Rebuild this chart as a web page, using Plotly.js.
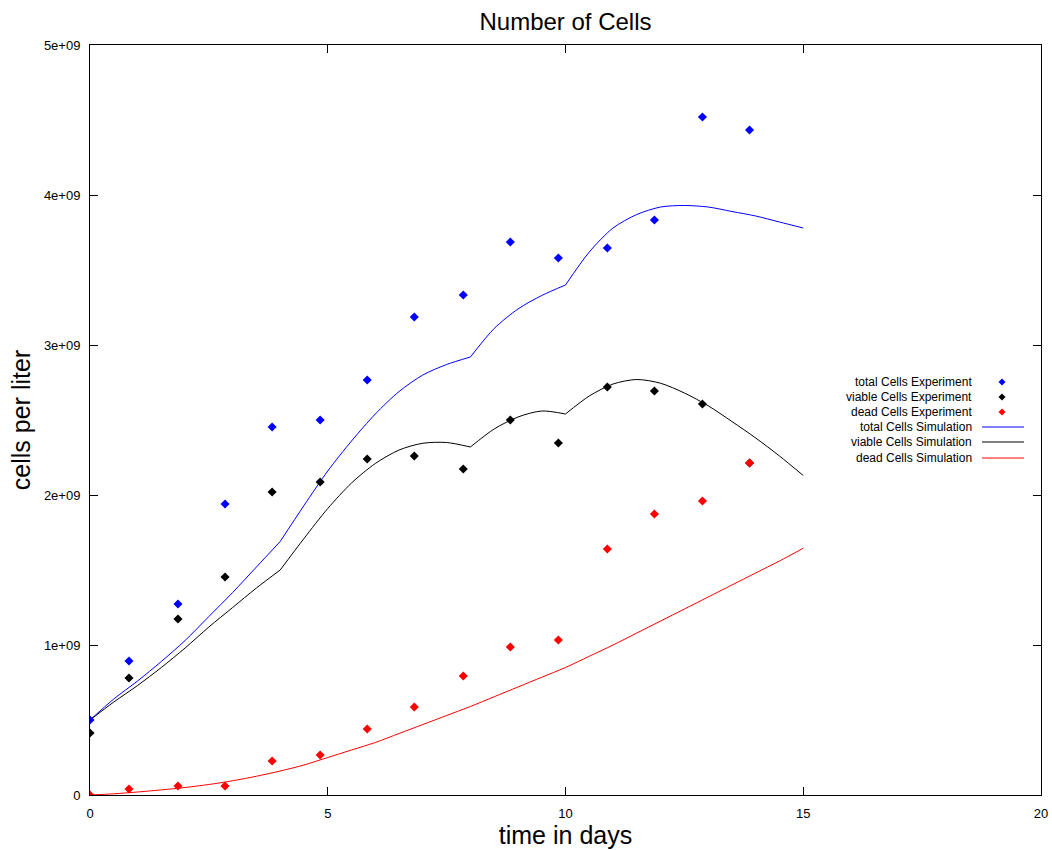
<!DOCTYPE html>
<html>
<head>
<meta charset="utf-8">
<script src="https://cdn.plot.ly/plotly-3.0.1.min.js"></script>
<style>html,body{margin:0;padding:0;background:#fff;}#chart{width:1052px;height:850px;}</style>
</head>
<body>
<div id="chart"></div>
<script>
// Experimental data (days, cells per liter)
const expDays = [0, 0.82, 1.85, 2.84, 3.83, 4.84, 5.83, 6.82, 7.85, 8.84, 9.85, 10.88, 11.87, 12.88, 13.87];
const totalExp = [0.50e9, 0.893e9, 1.273e9, 1.94e9, 2.453e9, 2.50e9, 2.767e9, 3.187e9, 3.333e9, 3.687e9, 3.58e9, 3.647e9, 3.833e9, 4.52e9, 4.433e9];
const viableExp = [0.413e9, 0.78e9, 1.173e9, 1.453e9, 2.02e9, 2.087e9, 2.24e9, 2.26e9, 2.173e9, 2.50e9, 2.347e9, 2.72e9, 2.693e9, 2.607e9, 2.213e9];
const deadExp = [0, 0.04e9, 0.06e9, 0.06e9, 0.227e9, 0.267e9, 0.44e9, 0.587e9, 0.793e9, 0.987e9, 1.033e9, 1.64e9, 1.873e9, 1.96e9, 2.213e9];

// Simulation curves (units of 1e9 cells per liter); feeding events at day 4, 8, 10 create kinks
const simDays = [0, 0.5, 1, 1.5, 2, 2.5, 3, 3.5, 4, 4.5, 5, 5.5, 6, 6.5, 7, 7.5, 8, 8.5, 9, 9.5, 10, 10.5, 11, 11.5, 12, 12.5, 13, 13.5, 14, 14.5, 15];
const totalSim = [0.50, 0.64, 0.76, 0.89, 1.03, 1.19, 1.35, 1.52, 1.69, 1.93, 2.16, 2.36, 2.54, 2.69, 2.80, 2.87, 2.92, 3.11, 3.24, 3.33, 3.40, 3.62, 3.78, 3.87, 3.92, 3.93, 3.92, 3.89, 3.86, 3.82, 3.78];
const viableSim = [0.50, 0.62, 0.73, 0.85, 0.98, 1.12, 1.25, 1.38, 1.50, 1.71, 1.91, 2.08, 2.21, 2.30, 2.345, 2.35, 2.32, 2.44, 2.52, 2.56, 2.54, 2.66, 2.74, 2.77, 2.745, 2.68, 2.595, 2.49, 2.38, 2.26, 2.13];
const deadSim = [0, 0.008, 0.02, 0.034, 0.05, 0.07, 0.095, 0.125, 0.16, 0.20, 0.25, 0.30, 0.35, 0.41, 0.47, 0.53, 0.59, 0.655, 0.72, 0.785, 0.85, 0.925, 1.0, 1.08, 1.16, 1.24, 1.32, 1.40, 1.48, 1.56, 1.645];
const kinkDays = [0, 4, 8, 10, 15];

const xTickVals = [0, 5, 10, 15, 20];
const xTickText = ['0', '5', '10', '15', '20'];
const yTickVals = [0, 1e9, 2e9, 3e9, 4e9, 5e9];
const yTickText = ['0', '1e+09', '2e+09', '3e+09', '4e+09', '5e+09'];

const legendNames = ['total Cells Experiment', 'viable Cells Experiment', 'dead Cells Experiment',
                     'total Cells Simulation', 'viable Cells Simulation', 'dead Cells Simulation'];
const colors = ['#0000ff', '#000000', '#ff0000'];

const FONT = 'Liberation Sans, Arial, sans-serif';

// split a simulation series at kink days, smooth each piece
function simTraces(vals, color, name) {
  const out = [];
  for (let k = 0; k < kinkDays.length - 1; k++) {
    const xs = [], ys = [];
    simDays.forEach((d, i) => {
      if (d >= kinkDays[k] && d <= kinkDays[k + 1]) { xs.push(d); ys.push(vals[i] * 1e9); }
    });
    out.push({x: xs, y: ys, mode: 'lines', line: {color: color, width: 1, shape: 'spline', smoothing: 0.8}, name: name});
  }
  return out;
}

const traces = [].concat(
  simTraces(totalSim, colors[0], legendNames[3]),
  simTraces(viableSim, colors[1], legendNames[4]),
  [{x: simDays, y: deadSim.map(v => v * 1e9), mode: 'lines', line: {color: colors[2], width: 1, shape: 'spline', smoothing: 0.8}, name: legendNames[5]}],
  [
    {x: expDays, y: totalExp, mode: 'markers', marker: {symbol: 'diamond', size: 7, color: colors[0]}, name: legendNames[0]},
    {x: expDays, y: viableExp, mode: 'markers', marker: {symbol: 'diamond', size: 7, color: colors[1]}, name: legendNames[1]},
    {x: expDays, y: deadExp, mode: 'markers', marker: {symbol: 'diamond', size: 7, color: colors[2]}, name: legendNames[2]}
  ]
).map(t => Object.assign(t, {showlegend: false, hoverinfo: 'skip'}));

// Custom gnuplot-style legend (text right-aligned, sample to the right)
const L = 90, R = 1041, T = 45, B = 795;
const px = x => (x - L) / (R - L);
const py = y => (B - y) / (B - T);
const annotations = [];
const shapes = [];
const rowY = [382, 397, 412, 427, 442, 458];
legendNames.forEach((n, i) => {
  annotations.push({xref: 'paper', yref: 'paper', x: px(974), y: py(rowY[i]), xanchor: 'right', yanchor: 'middle',
    text: n, showarrow: false, font: {family: FONT, size: 12, color: '#000'}});
  const c = colors[i % 3];
  if (i < 3) {
    shapes.push({type: 'path', xref: 'paper', yref: 'paper', xsizemode: 'pixel', ysizemode: 'pixel',
      xanchor: px(1002), yanchor: py(rowY[i]), path: 'M -3.5,0 L 0,3.5 L 3.5,0 L 0,-3.5 Z',
      fillcolor: c, line: {color: c, width: 0}});
  } else {
    shapes.push({type: 'line', xref: 'paper', yref: 'paper', x0: px(982), x1: px(1024),
      y0: py(rowY[i]), y1: py(rowY[i]), line: {color: c, width: 1}});
  }
});

const layout = {
  width: 1052, height: 850,
  margin: {l: L, r: 1052 - R, t: T, b: 850 - B},
  paper_bgcolor: '#fff', plot_bgcolor: '#fff',
  font: {family: FONT, size: 13, color: '#000'},
  title: {text: 'Number of Cells', font: {family: FONT, size: 24, color: '#000'}, x: 0.5, xref: 'paper', y: 1 - 22 / 850, yanchor: 'middle'},
  xaxis: {
    range: [0, 20], tickvals: xTickVals, ticktext: xTickText, ticks: 'inside', ticklen: 8, tickcolor: '#000',
    showline: true, linecolor: '#000', linewidth: 1, mirror: 'ticks', showgrid: false, zeroline: false,
    tickfont: {family: FONT, size: 13}, automargin: false, ticklabelstandoff: 6,
    title: {text: 'time in days', font: {family: FONT, size: 25}, standoff: 2}
  },
  yaxis: {
    range: [0, 5e9], tickvals: yTickVals, ticktext: yTickText, ticks: 'inside', ticklen: 8, tickcolor: '#000',
    showline: true, linecolor: '#000', linewidth: 1, mirror: 'ticks', showgrid: false, zeroline: false,
    tickfont: {family: FONT, size: 13}, automargin: false, ticklabelstandoff: 6,
    title: {text: 'cells per liter', font: {family: FONT, size: 25}, standoff: 6}
  },
  annotations: annotations,
  shapes: shapes
};

Plotly.newPlot('chart', traces, layout, {displayModeBar: false, staticPlot: true});
</script>
</body>
</html>
